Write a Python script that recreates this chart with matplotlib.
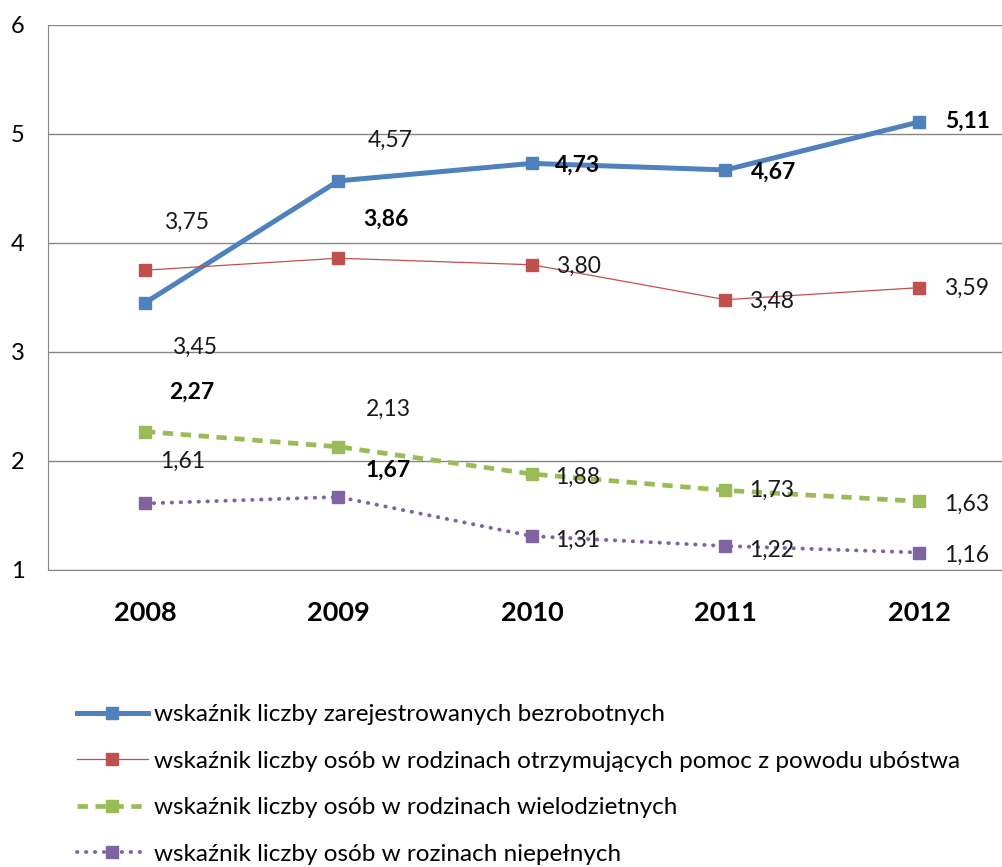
import matplotlib.pyplot as plt
import numpy as np

plt.rcParams['font.family'] = ['Lato', 'DejaVu Sans']

# dane
lata = ['2008', '2009', '2010', '2011', '2012']
bezrobotni = [3.45, 4.57, 4.73, 4.67, 5.11]
ubostwo = [3.75, 3.86, 3.80, 3.48, 3.59]
wielodzietne = [2.27, 2.13, 1.88, 1.73, 1.63]
niepelne = [1.61, 1.67, 1.31, 1.22, 1.16]

nazwy = ['wskaźnik liczby zarejestrowanych bezrobotnych',
         'wskaźnik liczby osób w rodzinach otrzymujących pomoc z powodu ubóstwa',
         'wskaźnik liczby osób w rodzinach wielodzietnych',
         'wskaźnik liczby osób w rozinach niepełnych']

# przesunięcia etykiet (piksele) i pogrubienie
off_b = [(50, -44), (52, 40), (46, -2), (48, -2), (48, 1)]
off_r = [(42, 48), (47, 39), (46, -2), (46, -2), (48, -1)]
off_g = [(47, 39), (50, 37), (46, -3), (46, 0), (48, -3)]
off_p = [(38, 42), (50, 27), (46, -4), (46, -4), (48, -3)]
bold_b = [False, False, True, True, True]
bold_r = [False, True, False, False, False]
bold_g = [True, False, False, False, False]
bold_p = [False, True, False, False, False]

fig = plt.figure(figsize=(10.03, 8.67), dpi=100)
ax = fig.add_axes([0.048, 0.3426, 0.952, 0.6286])

x = np.arange(len(lata))
serie = [
    (bezrobotni, dict(color='#4F81BD', lw=3.6, ls='-', marker='s', ms=9), off_b, bold_b),
    (ubostwo, dict(color='#C0504D', lw=0.9, ls='-', marker='s', ms=9), off_r, bold_r),
    (wielodzietne, dict(color='#9BBB59', lw=3.4, ls=(0, (2.2, 1.6)), marker='s', ms=9), off_g, bold_g),
    (niepelne, dict(color='#8064A2', lw=2.8, ls=(0, (0.1, 2.2)), dash_capstyle='round', marker='s', ms=9), off_p, bold_p),
]

for (vals, st, offs, bolds), nazwa in zip(serie, nazwy):
    ax.plot(x, vals, label=nazwa, zorder=3, **st)
    for xi, v, o, b in zip(x, vals, offs, bolds):
        ax.annotate(f'{v:.2f}'.replace('.', ','), (xi, v), xytext=o,
                    textcoords='offset pixels', ha='center', va='center',
                    fontsize=16.5, fontweight='bold' if b else 'normal',
                    color='#1a1a1a' if not b else 'black', zorder=4)

ax.set_xlim(-0.5, 4.434)
ax.set_ylim(1, 6)
ax.set_yticks([1, 2, 3, 4, 5, 6])
ax.set_xticks(x)
ax.set_xticklabels(lata, fontsize=19.5, fontweight='bold')
ax.tick_params(axis='y', labelsize=17, length=0, pad=17)
ax.tick_params(axis='x', length=0, pad=22)
ax.grid(axis='y', color='#868686', lw=1)
ax.set_axisbelow(True)
for s in ['top', 'right']:
    ax.spines[s].set_visible(False)
for s in ['left', 'bottom']:
    ax.spines[s].set_color('#868686')

fig.legend(loc='upper left', bbox_to_anchor=(0.077, 0.1876), frameon=False,
           fontsize=17.5, handlelength=2.9, handletextpad=0.25, labelspacing=1.05,
           borderaxespad=0, borderpad=0)

plt.savefig('out.png', dpi=100)
